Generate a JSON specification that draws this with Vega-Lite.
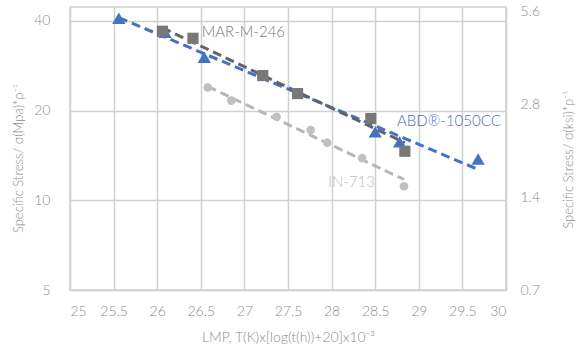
{
  "$schema": "https://vega.github.io/schema/vega-lite/v6.json",
  "width": 436,
  "height": 283,
  "autosize": {"type": "none"},
  "padding": {"left": 70, "top": 7, "right": 74, "bottom": 63},
  "background": "white",
  "config": {
    "font": "Lato",
    "view": {"stroke": "#d0d0d0", "strokeWidth": 1.5},
    "axis": {
      "labelFont": "Lato",
      "titleFont": "Lato",
      "labelFontSize": 14,
      "titleFontSize": 14,
      "labelColor": "#8c8c8c",
      "titleColor": "#8c8c8c",
      "labelFontWeight": 300,
      "titleFontWeight": 300,
      "ticks": false,
      "tickSize": 0,
      "domain": false,
      "gridColor": "#d0d0d0",
      "gridWidth": 1.5,
      "gridOpacity": 1
    }
  },
  "datasets": {
    "points": [
      {"series": "ABD®-1050CC", "lmp": 25.56, "stress": 40.8},
      {"series": "ABD®-1050CC", "lmp": 26.09, "stress": 36.6},
      {"series": "ABD®-1050CC", "lmp": 26.54, "stress": 30.2},
      {"series": "ABD®-1050CC", "lmp": 28.50, "stress": 16.96},
      {"series": "ABD®-1050CC", "lmp": 28.78, "stress": 15.7},
      {"series": "ABD®-1050CC", "lmp": 29.68, "stress": 13.75},
      {"series": "MAR-M-246", "lmp": 26.06, "stress": 36.9},
      {"series": "MAR-M-246", "lmp": 26.41, "stress": 34.95},
      {"series": "MAR-M-246", "lmp": 27.21, "stress": 26.2},
      {"series": "MAR-M-246", "lmp": 27.61, "stress": 22.8},
      {"series": "MAR-M-246", "lmp": 28.45, "stress": 18.8},
      {"series": "MAR-M-246", "lmp": 28.84, "stress": 14.6},
      {"series": "IN-713", "lmp": 26.58, "stress": 23.9},
      {"series": "IN-713", "lmp": 26.85, "stress": 21.6},
      {"series": "IN-713", "lmp": 27.37, "stress": 19.06},
      {"series": "IN-713", "lmp": 27.76, "stress": 17.2},
      {"series": "IN-713", "lmp": 27.95, "stress": 15.6},
      {"series": "IN-713", "lmp": 28.35, "stress": 13.85},
      {"series": "IN-713", "lmp": 28.83, "stress": 11.14}
    ],
    "labels": [
      {"series": "MAR-M-246", "lmp": 26.51, "stress": 36.8},
      {"series": "ABD®-1050CC", "lmp": 28.75, "stress": 18.4},
      {"series": "IN-713", "lmp": 27.96, "stress": 11.56}
    ],
    "ksi": [{"ksi": 0.7}, {"ksi": 5.6}]
  },
  "layer": [
    {
      "layer": [
        {
          "data": {"name": "points"},
          "transform": [
            {"regression": "stress", "on": "lmp", "method": "exp", "groupby": ["series"]}
          ],
          "mark": {"type": "line", "strokeWidth": 3, "strokeDash": [9, 5], "strokeCap": "butt"},
          "encoding": {
            "x": {
              "field": "lmp", "type": "quantitative",
              "scale": {"domain": [25, 30], "nice": false, "zero": false},
              "axis": {
                "values": [25, 25.5, 26, 26.5, 27, 27.5, 28, 28.5, 29, 29.5, 30],
                "format": "~g",
                "labelPadding": 14,
                "title": "LMP, T(K)x[log(t(h))+20]x10⁻³",
                "titlePadding": 12,
                "grid": true
              }
            },
            "y": {
              "field": "stress", "type": "quantitative",
              "scale": {"type": "log", "domain": [5, 44.5], "nice": false},
              "axis": {
                "values": [5, 10, 20, 40],
                "format": "~g",
                "labelPadding": 20,
                "title": "Specific Stress/ σ(Mpa)*ρ⁻¹",
                "titleFontSize": 13,
                "titlePadding": 8,
                "titleY": 151,
                "grid": true
              }
            },
            "stroke": {
              "field": "series", "type": "nominal",
              "scale": {"domain": ["ABD®-1050CC", "MAR-M-246", "IN-713"], "range": ["#4472C4", "#62626e", "#b6b6c0"]},
              "legend": null
            },
            "detail": {"field": "series"}
          }
        },
        {
          "data": {"name": "points"},
          "mark": {"type": "point", "filled": true, "opacity": 1, "strokeWidth": 0},
          "encoding": {
            "x": {"field": "lmp", "type": "quantitative"},
            "y": {"field": "stress", "type": "quantitative"},
            "fill": {
              "field": "series", "type": "nominal",
              "scale": {"domain": ["ABD®-1050CC", "MAR-M-246", "IN-713"], "range": ["#4472C4", "#787878", "#c0c0c0"]},
              "legend": null
            },
            "shape": {
              "field": "series", "type": "nominal",
              "scale": {"domain": ["ABD®-1050CC", "MAR-M-246", "IN-713"], "range": ["triangle-up", "square", "circle"]},
              "legend": null
            },
            "size": {
              "field": "series", "type": "nominal",
              "scale": {"domain": ["ABD®-1050CC", "MAR-M-246", "IN-713"], "range": [175, 75, 81]},
              "legend": null
            }
          }
        },
        {
          "data": {"name": "labels"},
          "mark": {"type": "text", "align": "left", "baseline": "middle", "fontSize": 15, "font": "Lato", "fontWeight": 300},
          "encoding": {
            "x": {"field": "lmp", "type": "quantitative"},
            "y": {"field": "stress", "type": "quantitative"},
            "text": {"field": "series"},
            "fill": {"field": "series", "type": "nominal", "legend": null}
          }
        }
      ]
    },
    {
      "data": {"name": "ksi"},
      "mark": {"type": "point", "opacity": 0},
      "encoding": {
        "y": {
          "field": "ksi", "type": "quantitative",
          "scale": {"type": "log", "domain": [0.7, 5.77], "nice": false},
          "axis": {
            "orient": "right",
            "values": [0.7, 1.4, 2.8, 5.6],
            "format": "~g",
            "labelPadding": 14,
            "grid": false,
            "title": "Specific Stress/ σ(ksi)*ρ⁻¹",
            "titleFontSize": 13,
            "titleAngle": 270,
            "titlePadding": 36,
            "titleY": 152
          }
        }
      }
    }
  ],
  "resolve": {"scale": {"y": "independent"}}
}
